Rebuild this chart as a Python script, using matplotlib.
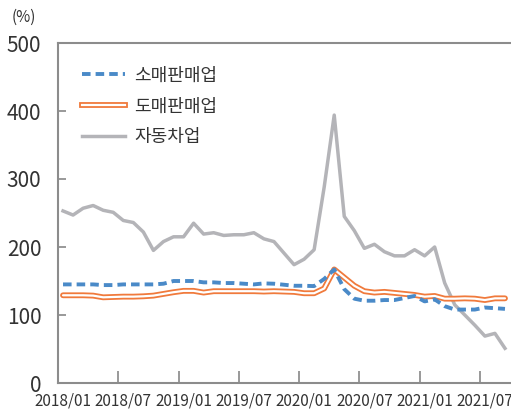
import matplotlib
matplotlib.use("Agg")
import matplotlib.pyplot as plt
import numpy as np
from matplotlib.lines import Line2D

plt.rcParams['font.family'] = ['Noto Sans CJK KR', 'DejaVu Sans']

months = [f"{y}/{m:02d}" for y in (2018, 2019, 2020, 2021) for m in range(1, 13)][:45]
tick_labels = ["2018/01", "2018/07", "2019/01", "2019/07", "2020/01", "2020/07", "2021/01", "2021/07"]

retail = [145, 145, 145, 145, 144, 144, 145, 145, 145, 145, 146, 150, 150, 150, 148,
          148, 147, 147, 146, 145, 146.5, 146, 144.5, 143, 143, 142.5, 153, 167, 138, 124,
          121, 121, 122, 122, 125, 128, 120, 123, 113, 108, 108, 108, 111, 110, 109]
wholesale = [129, 129, 129, 128.5, 126, 126.5, 127, 127, 127.5, 128.5, 131, 133.5, 135.5, 135.5, 133,
             135, 135, 135, 135, 135, 134.5, 135, 134.5, 134, 132, 132, 139, 167, 155, 143,
             135, 133, 134, 132.5, 131, 129.5, 127, 128, 124, 124, 124.5, 124, 122, 124.5, 124.5]
auto = [253, 247, 257, 261, 254, 251, 239, 236, 222, 195, 208, 215, 215, 235, 219,
        221, 217, 218, 218, 221, 212, 208, 191, 174, 182, 196, 288, 394, 245, 224,
        198, 204, 193, 187, 187, 196, 187, 200, 147, 115, 100, 85, 69, 73, 51]

x = np.arange(len(months))

fig = plt.figure(figsize=(5.11, 4.16), dpi=100)
ax = fig.add_axes([58/511, 33/416, 452/511, 340/416])

ax.plot(x, auto, color='#b4b4b8', lw=2.5, zorder=2)
ax.plot(x, wholesale, color='#f07a3c', lw=4.2, zorder=3, solid_capstyle='round')
ax.plot(x, wholesale, color='white', lw=1.6, zorder=4, solid_capstyle='round')
ax.plot(x, retail, color='#4a8ac8', lw=2.8, ls=(0, (2.2, 1.3)), zorder=5)

ax.set_xlim(-0.5, len(months) - 0.5)
ax.set_ylim(0, 500)
ax.set_yticks([0, 100, 200, 300, 400, 500])
ax.tick_params(axis='y', direction='in', length=6, width=1.2, color='#888888',
               labelsize=15, labelcolor='#333333', pad=12)
for lab in ax.get_yticklabels():
    lab.set_fontweight('light')

# major ticks at category boundaries, labels at category centres
ax.set_xticks(np.arange(-0.5, len(months), 6))
ax.set_xticklabels([])
ax.set_xticks(np.arange(0, len(months), 6), minor=True)
ax.set_xticklabels(tick_labels, minor=True)
ax.tick_params(axis='x', which='major', direction='in', length=9, width=1.2, color='#888888')
ax.tick_params(axis='x', which='minor', length=0, labelsize=11, labelcolor='#333333', pad=7)

for s in ['left', 'bottom', 'top']:
    ax.spines[s].set_color('#8c8c8c')
    ax.spines[s].set_linewidth(1.5)
ax.spines['right'].set_visible(False)

fig.text(12/511, 1 - 17/416, '(%)', fontsize=11, color='#333333', va='center', ha='left')

# legend
h_retail = Line2D([], [], color='#4a8ac8', lw=2.8, ls=(0, (2.2, 1.3)))
h_whole_o = Line2D([], [], color='#f07a3c', lw=4.2)
h_whole_i = Line2D([], [], color='white', lw=1.6)
h_auto = Line2D([], [], color='#b4b4b8', lw=2.5)
leg = ax.legend([h_retail, (h_whole_o, h_whole_i), h_auto], ['소매판매업', '도매판매업', '자동차업'],
                loc='upper left', bbox_to_anchor=(0.017, 0.978), frameon=False,
                fontsize=13, handlelength=2.4, handletextpad=0.5, labelspacing=0.7,
                labelcolor='#333333')

fig.savefig('out.png', dpi=100)
